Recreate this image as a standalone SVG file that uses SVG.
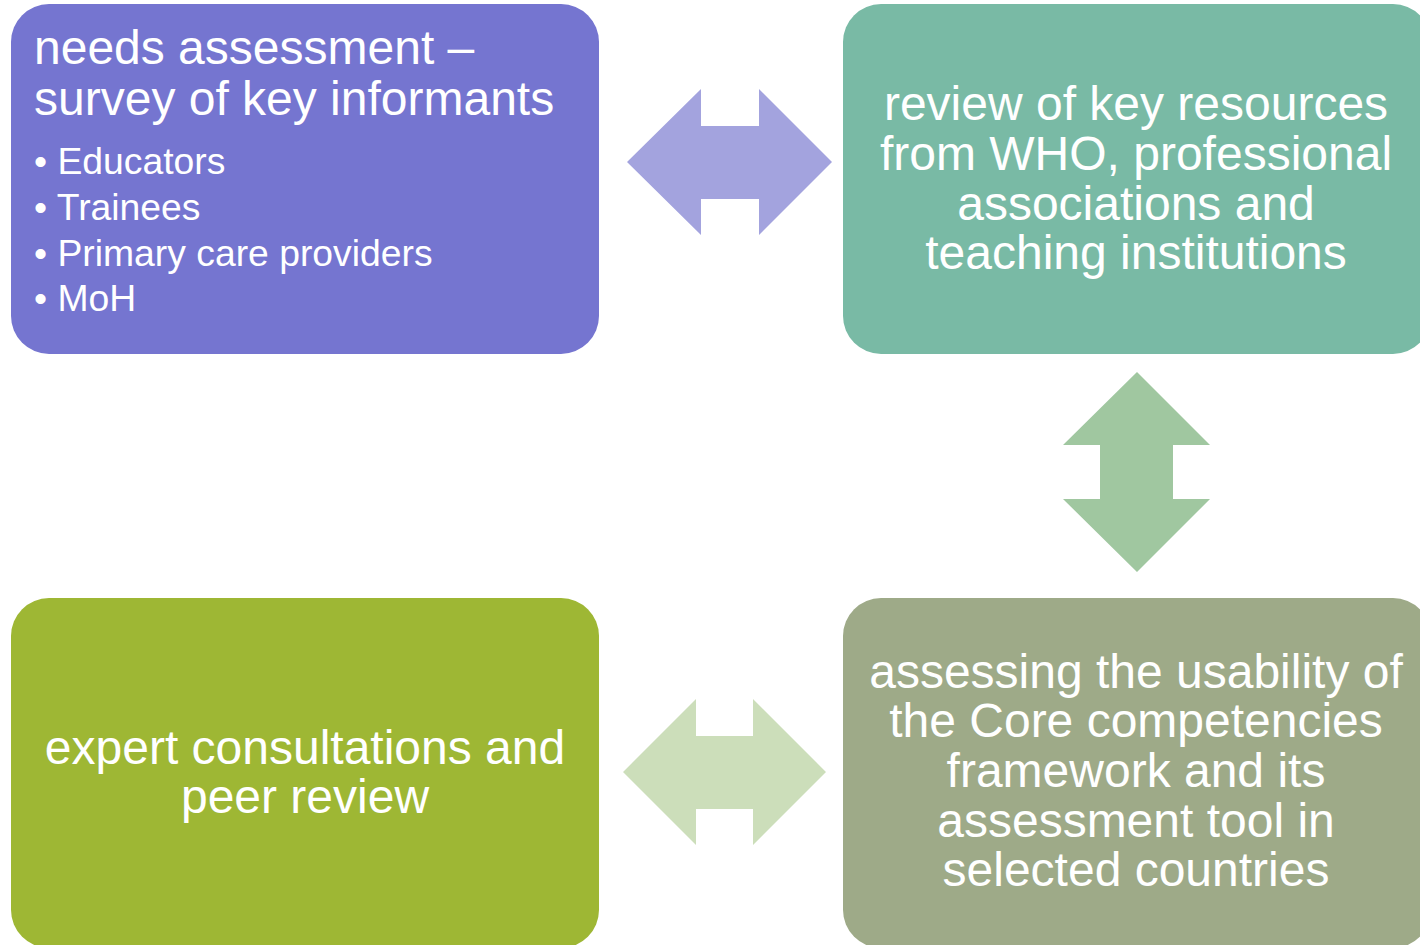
<svg xmlns="http://www.w3.org/2000/svg" width="1420" height="945" viewBox="0 0 1420 945">
  <style>
    .box { stroke: none; }
    .t { font-family: "Liberation Sans", Arial, sans-serif; fill: #ffffff; }
    .h { font-size: 48px; }
    .c { text-anchor: middle; }
    .b { font-size: 37.3px; }
  </style>
  <rect width="1420" height="945" fill="#ffffff"/>

  <!-- double-headed arrows between the steps -->
  <g id="connectors">
    <polygon points="627,162 701,89 701,126 759,126 759,89 832,162 759,235 759,199 701,199 701,235" fill="#a3a3de"/>
    <polygon points="1137,372 1210,445 1173,445 1173,499 1210,499 1137,572 1063,499 1100,499 1100,445 1063,445" fill="#a0c7a0"/>
    <polygon points="623,772 696,699 696,736 753,736 753,699 826,772 753,845 753,809 696,809 696,845" fill="#ccdeba"/>
  </g>

  <g id="needs-assessment">
    <rect class="box" x="11" y="4" width="588" height="350" rx="38" fill="#7575d0"/>
    <text class="t h" x="34" y="64">needs assessment –</text>
    <text class="t h" x="34" y="115">survey of key informants</text>
    <text class="t b" x="34" y="174">• Educators</text>
    <text class="t b" x="34" y="220">• Trainees</text>
    <text class="t b" x="34" y="266">• Primary care providers</text>
    <text class="t b" x="34" y="311">• MoH</text>
  </g>

  <g id="review-resources">
    <rect class="box" x="843" y="4" width="588" height="350" rx="38" fill="#79baa5"/>
    <text class="t h c" x="1136" y="120">review of key resources</text>
    <text class="t h c" x="1136" y="170">from WHO, professional</text>
    <text class="t h c" x="1136" y="220">associations and</text>
    <text class="t h c" x="1136" y="269">teaching institutions</text>
  </g>

  <g id="expert-consultations">
    <rect class="box" x="11" y="598" width="588" height="350" rx="38" fill="#9eb734"/>
    <text class="t h c" x="305" y="764">expert consultations and</text>
    <text class="t h c" x="305" y="813">peer review</text>
  </g>

  <g id="usability-assessment">
    <rect class="box" x="843" y="598" width="588" height="350" rx="38" fill="#9eaa88"/>
    <text class="t h c" x="1136" y="688">assessing the usability of</text>
    <text class="t h c" x="1136" y="737">the Core competencies</text>
    <text class="t h c" x="1136" y="787">framework and its</text>
    <text class="t h c" x="1136" y="837">assessment tool in</text>
    <text class="t h c" x="1136" y="886">selected countries</text>
  </g>
</svg>
